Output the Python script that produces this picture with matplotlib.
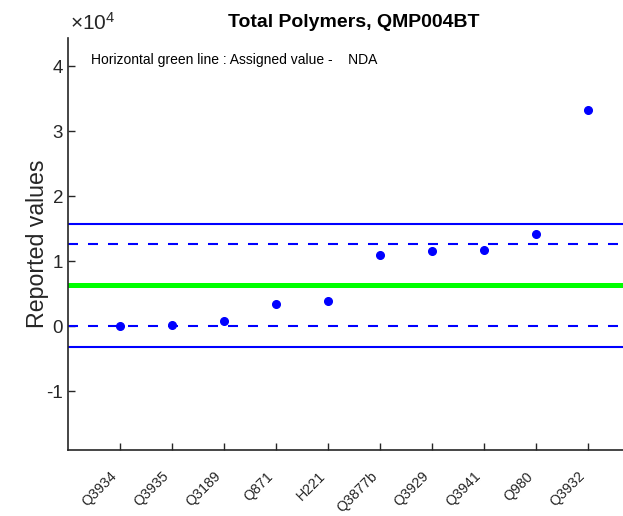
import matplotlib
matplotlib.use("Agg")
import matplotlib.pyplot as plt
from matplotlib.ticker import FuncFormatter

plt.rcParams['font.family'] = ['Liberation Sans', 'DejaVu Sans']
plt.rcParams['mathtext.fontset'] = 'custom'
plt.rcParams['mathtext.rm'] = 'Liberation Sans'
plt.rcParams['axes.unicode_minus'] = False

labs = ['Q3934', 'Q3935', 'Q3189', 'Q871', 'H221', 'Q3877b', 'Q3929', 'Q3941', 'Q980', 'Q3932']
vals = [20, 260, 870, 3490, 3850, 11030, 11590, 11800, 14260, 33230]
assigned = 6300
sd = 3150

fig = plt.figure(figsize=(6.23, 5.16), dpi=100)
ax = fig.add_axes([0.109, 0.128, 0.918, 0.798])

xs = list(range(1, len(vals) + 1))
ax.axhline(assigned, color='#00ff00', lw=3.6, zorder=2)
ax.axhline(assigned + 2 * sd, color='blue', lw=1.5, dashes=(4.8, 4.8))
ax.axhline(assigned - 2 * sd, color='blue', lw=1.5, dashes=(4.8, 4.8))
ax.axhline(assigned + 3 * sd, color='blue', lw=1.5)
ax.axhline(assigned - 3 * sd, color='blue', lw=1.5)
ax.plot(xs, vals, 'o', color='blue', ms=5.5, zorder=3)

ax.set_xlim(0, 11)
ax.set_ylim(-19000, 44300)
ax.set_xticks(xs)
ax.set_xticklabels(labs, rotation=45, ha='right', va='bottom', rotation_mode='anchor', fontsize=10.3)
ax.set_yticks([-10000, 0, 10000, 20000, 30000, 40000])
ax.yaxis.set_major_formatter(FuncFormatter(lambda v, p: '%d' % round(v / 1e4)))
fig.text(70 / 623, 1 - 30 / 516, r'$\times\mathregular{10^{4}}$', fontsize=15, color='#262626',
         ha='left', va='baseline')

for s in ['top', 'right']:
    ax.spines[s].set_visible(False)
for s in ['left', 'bottom']:
    ax.spines[s].set_linewidth(1.2)
    ax.spines[s].set_color('#262626')
ax.tick_params(direction='in', length=5, width=1, colors='#262626')
ax.tick_params(axis='y', labelsize=13.5)
ax.tick_params(axis='x', pad=21)

ax.set_ylabel('Reported values', fontsize=16.7, color='#262626', labelpad=-2)
ax.set_title('Total Polymers, QMP004BT', fontsize=14, fontweight='bold', pad=8)
ax.text(0.04, 0.965, 'Horizontal green line : Assigned value -    NDA',
        transform=ax.transAxes, fontsize=10, va='top', ha='left')

fig.savefig('out.png', dpi=100)
